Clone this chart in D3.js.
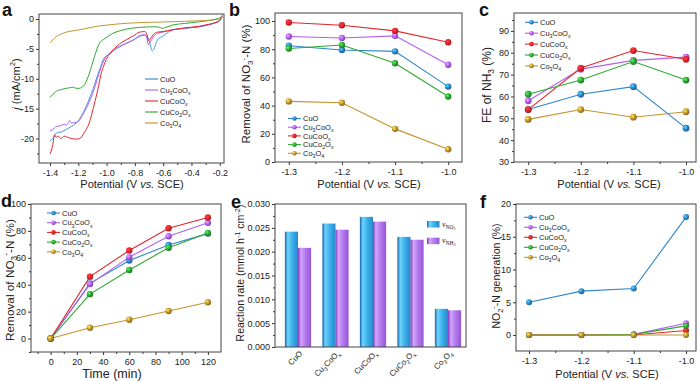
<!DOCTYPE html>
<html>
<head>
<meta charset="utf-8">
<script src="https://cdn.jsdelivr.net/npm/d3@7"></script>
<style>
  body { margin: 0; background: #fff; }
  svg { display: block; font-family: "Liberation Sans", Arial, sans-serif; }
</style>
</head>
<body>
<div id="wrapper"></div>
<script>
// sample names, in legend order
const samples = ["CuO", "Cu3CoOx", "CuCoOx", "CuCo2Ox", "Co3O4"];
const colors = ["#2f86cc", "#b15ff2", "#e3262b", "#2fa834", "#c3932f"];

// panel a - LSV curves [potential V, j mA/cm2]
const lsvCuO = [[-1.4,-20.4],[-1.38,-20.0],[-1.356,-19.1],[-1.32,-18.9],[-1.286,-18.5],[-1.25,-18.0],[-1.215,-17.4],[-1.18,-16.3],[-1.144,-14.6],[-1.12,-13.2],[-1.097,-11.8],[-1.075,-10.2],[-1.05,-8.5],[-1.02,-6.6],[-0.99,-6.0],[-0.956,-5.4],[-0.91,-4.7],[-0.862,-4.05],[-0.81,-3.5],[-0.767,-2.9],[-0.73,-2.7],[-0.71,-3.0],[-0.695,-3.9],[-0.678,-5.3],[-0.665,-5.0],[-0.65,-4.0],[-0.63,-3.2],[-0.603,-2.9],[-0.57,-2.3],[-0.532,-1.8],[-0.45,-1.55],[-0.343,-1.3],[-0.28,-1.0],[-0.226,-0.6],[-0.2,-0.3],[-0.183,0.4]];
const lsvCu3CoOx = [[-1.4,-18.7],[-1.38,-18.5],[-1.356,-18.0],[-1.33,-17.9],[-1.3,-17.6],[-1.286,-17.8],[-1.27,-17.3],[-1.262,-17.0],[-1.25,-17.4],[-1.215,-17.3],[-1.19,-16.9],[-1.168,-16.0],[-1.145,-15.0],[-1.121,-13.8],[-1.098,-12.4],[-1.074,-10.7],[-1.055,-9.2],[-1.038,-8.0],[-1.003,-6.3],[-0.97,-5.6],[-0.956,-5.2],[-0.91,-4.6],[-0.862,-4.1],[-0.81,-3.5],[-0.767,-2.8],[-0.73,-2.6],[-0.715,-3.2],[-0.705,-4.3],[-0.69,-3.8],[-0.67,-3.0],[-0.64,-2.4],[-0.603,-2.2],[-0.532,-1.8],[-0.45,-1.55],[-0.343,-1.25],[-0.28,-0.95],[-0.226,-0.55],[-0.2,-0.25],[-0.183,0.4]];
const lsvCuCoOx = [[-1.4,-22.6],[-1.38,-21.0],[-1.368,-19.4],[-1.356,-19.8],[-1.345,-19.6],[-1.32,-20.0],[-1.3,-19.6],[-1.286,-19.7],[-1.25,-20.0],[-1.215,-20.1],[-1.19,-20.0],[-1.168,-19.4],[-1.15,-18.7],[-1.133,-18.0],[-1.115,-16.8],[-1.097,-15.2],[-1.08,-13.6],[-1.062,-11.8],[-1.038,-9.1],[-1.02,-7.8],[-1.003,-6.8],[-0.98,-5.9],[-0.956,-5.2],[-0.91,-4.2],[-0.862,-3.5],[-0.81,-2.8],[-0.767,-2.2],[-0.73,-2.1],[-0.715,-2.6],[-0.705,-3.6],[-0.69,-3.3],[-0.67,-2.6],[-0.64,-2.2],[-0.603,-2.1],[-0.532,-1.8],[-0.45,-1.5],[-0.343,-1.2],[-0.28,-0.9],[-0.226,-0.55],[-0.2,-0.2],[-0.183,0.4]];
const lsvCuCo2Ox = [[-1.4,-13.1],[-1.38,-12.6],[-1.356,-12.1],[-1.32,-11.8],[-1.286,-11.6],[-1.26,-11.5],[-1.238,-11.4],[-1.215,-11.6],[-1.192,-11.6],[-1.175,-11.4],[-1.156,-11.0],[-1.14,-10.2],[-1.121,-9.05],[-1.105,-7.8],[-1.086,-6.3],[-1.068,-5.0],[-1.05,-4.05],[-1.02,-3.4],[-0.99,-2.9],[-0.956,-2.4],[-0.91,-2.0],[-0.862,-1.7],[-0.767,-1.4],[-0.65,-1.3],[-0.62,-1.45],[-0.603,-1.55],[-0.58,-1.4],[-0.532,-1.0],[-0.45,-0.75],[-0.343,-0.45],[-0.226,0.0],[-0.19,0.3],[-0.183,0.7]];
const lsvCo3O4 = [[-1.4,-3.95],[-1.38,-3.5],[-1.356,-2.95],[-1.32,-2.5],[-1.286,-2.2],[-1.23,-1.95],[-1.168,-1.7],[-1.11,-1.4],[-1.05,-1.15],[-0.99,-1.0],[-0.932,-0.85],[-0.85,-0.7],[-0.767,-0.6],[-0.65,-0.52],[-0.532,-0.45],[-0.45,-0.38],[-0.343,-0.3],[-0.25,-0.15],[-0.2,0.0],[-0.183,0.3]];
const lsvAll = [lsvCuO, lsvCu3CoOx, lsvCuCoOx, lsvCuCo2Ox, lsvCo3O4];

// panels b, c, f share these potentials
const potentials = [-1.3, -1.2, -1.1, -1.0];
const removalByPotential = [[82.5,79.5,78.5,53.5],[89,88,89.5,69],[99,97,93,85],[80.5,83,70,46.5],[43,42,23.5,9]];
const feNH3 = [[54,61,64.5,45.5],[58,72.5,76.5,78],[54,73,81,77],[61,67.5,76,67.5],[49.5,54,50.5,53]];
const nitriteGen = [[5,6.7,7.1,18],[0,0,0.1,1.8],[0,0,0,0.7],[0,0,0.1,1.4],[0,0,0,0]];

// panel d
const times = [0, 30, 60, 90, 120];
const removalByTime = [[0,41,58,69.5,78],[0,40.5,60.5,76,86],[0,46,65.5,82,90],[0,33,51,67.5,78.5],[0,8,14,20.5,27]];

// panel e
const rateNO3 = [0.0242, 0.0259, 0.0273, 0.0231, 0.0080];
const rateNH3 = [0.0208, 0.0246, 0.0263, 0.0225, 0.0077];

const svg = d3.select("#wrapper").append("svg").attr("width", 700).attr("height", 381);
const defs = svg.append("defs");

// shiny ball gradients
colors.forEach((c, i) => {
    const g = defs.append("radialGradient").attr("id", "ball" + i)
        .attr("cx", "35%").attr("cy", "35%").attr("r", "65%");
    g.append("stop").attr("offset", "0%").attr("stop-color", d3.color(c).brighter(1.4));
    g.append("stop").attr("offset", "55%").attr("stop-color", c);
    g.append("stop").attr("offset", "100%").attr("stop-color", d3.color(c).darker(0.9));
});
function barGrad(id, stops) {
    const g = defs.append("linearGradient").attr("id", id).attr("x1", "0%").attr("x2", "100%");
    stops.forEach(s => g.append("stop").attr("offset", s[0]).attr("stop-color", s[1]));
}
barGrad("barBlue", [["0%", "#1465ad"], ["22%", "#6fd3fb"], ["55%", "#3db2ec"], ["100%", "#2688cc"]]);
barGrad("barPurple", [["0%", "#7e34bf"], ["22%", "#d4a6fb"], ["55%", "#b47bef"], ["100%", "#9656d6"]]);

// text with sub/superscripts: parts = [[text, kind]], kind n|sub|sup|i
function rich(t, parts, fs) {
    let shift = 0;
    parts.forEach(([s, k]) => {
        const target = k === "sub" ? 0.28 * fs : k === "sup" ? -0.38 * fs : 0;
        const ts = t.append("tspan").text(s).attr("dy", target - shift);
        if (k === "sub" || k === "sup") ts.attr("font-size", fs * 0.7);
        if (k === "i") ts.attr("font-style", "italic");
        shift = target;
    });
    return t;
}
function formula(name) {
    return name.split(/(\d+|x)/).filter(s => s !== "").map(s => [s, /^(\d+|x)$/.test(s) ? "sub" : "n"]);
}

function panel(box, xd, yd) {
    const g = svg.append("g");
    const x = d3.scaleLinear().domain(xd).range([box.x0, box.x1]);
    const y = d3.scaleLinear().domain(yd).range([box.y1, box.y0]);
    return { g, x, y, box };
}
function axes(p, o) {
    const { g, x, y, box } = p;
    const tick = sel => sel.call(s => s.select(".domain").remove())
        .selectAll("text").attr("font-size", 9).attr("fill", "#222")
        .attr("font-family", "Liberation Sans, Arial, sans-serif");
    const minor = sel => sel.call(s => s.select(".domain").remove()).selectAll("text").remove();
    if (o.xMajor) {
        g.append("g").attr("transform", `translate(0,${box.y1})`)
            .call(d3.axisBottom(x).tickValues(o.xMajor).tickFormat(o.xFmt).tickSize(3).tickPadding(4)).call(tick);
        g.append("g").attr("transform", `translate(0,${box.y1})`)
            .call(d3.axisBottom(x).tickValues(o.xMinor).tickSize(2)).call(minor);
    }
    g.append("g").attr("transform", `translate(${box.x0},0)`)
        .call(d3.axisLeft(y).tickValues(o.yMajor).tickFormat(o.yFmt).tickSize(3).tickPadding(2)).call(tick);
    g.append("g").attr("transform", `translate(${box.x0},0)`)
        .call(d3.axisLeft(y).tickValues(o.yMinor).tickSize(2)).call(minor);
    g.selectAll(".tick line").attr("stroke", "#333");
    g.append("rect").attr("x", box.x0).attr("y", box.y0)
        .attr("width", box.x1 - box.x0).attr("height", box.y1 - box.y0)
        .attr("fill", "none").attr("stroke", "#444").attr("stroke-width", 1);
}
function letter(s, x, y) {
    svg.append("text").attr("x", x).attr("y", y).text(s)
        .attr("font-size", 18).attr("font-weight", "bold").attr("fill", "#111");
}
function xTitle(parts, x, y, fs) {
    rich(svg.append("text").attr("x", x).attr("y", y).attr("text-anchor", "middle")
        .attr("font-size", fs).attr("fill", "#222"), parts, fs);
}
function yTitle(parts, x, y, fs) {
    rich(svg.append("text").attr("transform", `translate(${x},${y}) rotate(-90)`)
        .attr("text-anchor", "middle").attr("font-size", fs).attr("fill", "#222"), parts, fs);
}
function legend(lx, ly, dy, withBall) {
    samples.forEach((s, i) => {
        const yy = ly + i * dy;
        svg.append("line").attr("x1", lx).attr("x2", lx + 13).attr("y1", yy).attr("y2", yy)
            .attr("stroke", colors[i]).attr("stroke-width", 1.1);
        if (withBall) svg.append("circle").attr("cx", lx + 6.5).attr("cy", yy).attr("r", 2.3)
            .attr("fill", `url(#ball${i})`);
        rich(svg.append("text").attr("x", lx + 15).attr("y", yy + 2.7)
            .attr("font-size", 7.5).attr("fill", "#222"), formula(s), 7.5);
    });
}
function pointSeries(p, xs, rows, r) {
    const line = d3.line().x((d, i) => p.x(xs[i])).y(d => p.y(d));
    rows.forEach((row, i) => {
        p.g.append("path").attr("d", line(row)).attr("fill", "none")
            .attr("stroke", colors[i]).attr("stroke-width", 1.1);
    });
    rows.forEach((row, i) => {
        p.g.selectAll(null).data(row).enter().append("circle")
            .attr("cx", (d, j) => p.x(xs[j])).attr("cy", d => p.y(d)).attr("r", r)
            .attr("fill", `url(#ball${i})`);
    });
}
const fmt1 = v => v.toFixed(1);
const fmtInt = v => String(v);
const potentialTitle = [["Potential (V ", "n"], ["vs.", "i"], [" SCE)", "n"]];
const removalTitle = [["Removal of NO", "n"], ["3", "sub"], ["-", "sup"], ["-N (%)", "n"]];

// ---- a ----
const pa = panel({ x0: 39, x1: 224, y0: 14, y1: 163 }, [-1.478, -0.17], [-24.1, 0.84]);
const lsvLine = d3.line().x(d => pa.x(d[0])).y(d => pa.y(d[1])).curve(d3.curveMonotoneX);
lsvAll.forEach((data, i) => {
    pa.g.append("path").attr("d", lsvLine(data)).attr("fill", "none")
        .attr("stroke", i === 0 ? "#4a98d6" : colors[i]).attr("stroke-width", 1);
});
axes(pa, {
    xMajor: [-1.4, -1.2, -1.0, -0.8, -0.6, -0.4, -0.2], xMinor: [-1.3, -1.1, -0.9, -0.7, -0.5, -0.3],
    xFmt: fmt1, yMajor: [0, -5, -10, -15, -20], yMinor: [-2.5, -7.5, -12.5, -17.5, -22.5], yFmt: fmtInt
});
legend(145, 79, 11, false);
letter("a", 2, 16);
xTitle(potentialTitle, 132, 188, 11);
yTitle([["j", "i"], [" (mA/cm", "n"], ["2", "sup"], [")", "n"]], 19.5, 84, 11);

// ---- b ----
const pb = panel({ x0: 275, x1: 462, y0: 13, y1: 162 }, [-1.326, -0.974], [0, 105.7]);
pointSeries(pb, potentials, removalByPotential, 3.2);
axes(pb, {
    xMajor: potentials, xMinor: [-1.25, -1.15, -1.05], xFmt: fmt1,
    yMajor: [0, 20, 40, 60, 80, 100], yMinor: [10, 30, 50, 70, 90], yFmt: fmtInt
});
legend(288, 118.5, 8.7, true);
letter("b", 229, 16);
xTitle(potentialTitle, 369, 188, 11);
yTitle(removalTitle, 250, 84, 11.5);

// ---- c ----
const pc = panel({ x0: 514, x1: 696, y0: 13, y1: 162 }, [-1.327, -0.981], [30, 98.2]);
pointSeries(pc, potentials, feNH3, 3.4);
axes(pc, {
    xMajor: potentials, xMinor: [-1.25, -1.15, -1.05], xFmt: fmt1,
    yMajor: [30, 40, 50, 60, 70, 80, 90], yMinor: [35, 45, 55, 65, 75, 85, 95], yFmt: fmtInt
});
legend(525, 22.3, 10.9, true);
letter("c", 479, 16);
xTitle(potentialTitle, 609, 188, 11);
yTitle([["FE of NH", "n"], ["3", "sub"], [" (%)", "n"]], 491, 85, 12);

// ---- d ----
const pd = panel({ x0: 31, x1: 221, y0: 204, y1: 352 }, [-15, 130], [-10, 100]);
pointSeries(pd, times, removalByTime, 3.2);
axes(pd, {
    xMajor: [0, 20, 40, 60, 80, 100, 120], xMinor: [-10, 10, 30, 50, 70, 90, 110], xFmt: fmtInt,
    yMajor: [0, 20, 40, 60, 80, 100], yMinor: [-10, 10, 30, 50, 70, 90], yFmt: fmtInt
});
legend(47, 213, 9.7, true);
letter("d", 1, 207);
xTitle([["Time (min)", "n"]], 112, 378, 12.5);
yTitle(removalTitle, 13.5, 280, 11.8);

// ---- e ----
const pe = panel({ x0: 275, x1: 466, y0: 204, y1: 347 }, [0, 1], [0, 0.03]);
const xe = d3.scaleBand().domain(samples).range([279.25, 466.75]).paddingInner(0.3).paddingOuter(0.15);
const xSub = d3.scaleBand().domain(["no3", "nh3"]).range([0, xe.bandwidth()]);
samples.forEach((s, i) => {
    [["no3", rateNO3[i], "barBlue"], ["nh3", rateNH3[i], "barPurple"]].forEach(([k, v, fill]) => {
        pe.g.append("rect").attr("x", xe(s) + xSub(k)).attr("y", pe.y(v))
            .attr("width", xSub.bandwidth()).attr("height", pe.y(0) - pe.y(v))
            .attr("fill", `url(#${fill})`);
    });
    rich(svg.append("text")
        .attr("transform", `translate(${xe(s) + xe.bandwidth() / 2 + 5},${354}) rotate(-45)`)
        .attr("text-anchor", "end").attr("font-size", 8).attr("fill", "#222"), formula(s), 8);
});
axes(pe, {
    yMajor: [0, 0.005, 0.01, 0.015, 0.02, 0.025, 0.03],
    yMinor: [0.0025, 0.0075, 0.0125, 0.0175, 0.0225, 0.0275], yFmt: v => v.toFixed(3)
});
[["barBlue", "NO", "3"], ["barPurple", "NH", "3"]].forEach((d, i) => {
    const yy = 221 + i * 16.7;
    svg.append("rect").attr("x", 427).attr("y", yy).attr("width", 12.5).attr("height", 6.5)
        .attr("fill", `url(#${d[0]})`);
    const t = svg.append("text").attr("x", 442).attr("y", yy + 5.5).attr("font-size", 8)
        .attr("font-family", "Liberation Serif, serif").attr("fill", "#222");
    t.append("tspan").text("v").attr("font-style", "italic");
    t.append("tspan").text(d[1]).attr("font-size", 5.5).attr("dy", 2);
    t.append("tspan").text(d[2]).attr("font-size", 4).attr("dy", 1);
});
letter("e", 231, 208);
yTitle([["Reaction rate (mmol h", "n"], ["-1", "sup"], [" cm", "n"], ["-2", "sup"], [")", "n"]], 244, 273, 10.5);

// ---- f ----
const pf = panel({ x0: 516, x1: 696, y0: 204, y1: 351 }, [-1.325, -0.981], [-2.44, 20]);
pointSeries(pf, potentials, nitriteGen, 3);
axes(pf, {
    xMajor: potentials, xMinor: [-1.25, -1.15, -1.05], xFmt: fmt1,
    yMajor: [0, 5, 10, 15, 20], yMinor: [2.5, 7.5, 12.5, 17.5], yFmt: fmtInt
});
legend(524, 217.3, 10, true);
letter("f", 480, 208);
xTitle(potentialTitle, 607, 378, 11);
yTitle([["NO", "n"], ["2", "sub"], ["-", "sup"], ["-N generation (%)", "n"]], 500, 276, 10.5);
</script>
</body>
</html>
